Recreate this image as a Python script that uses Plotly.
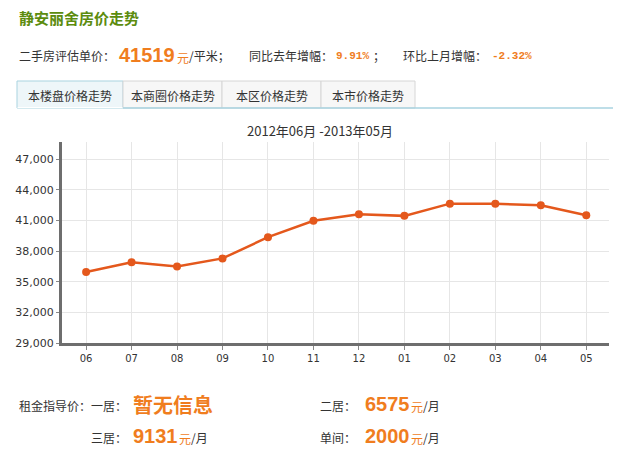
import plotly.graph_objects as go

months = ["06", "07", "08", "09", "10", "11", "12", "01", "02", "03", "04", "05"]
prices = [35950, 36920, 36500, 37290, 39370, 40980, 41620, 41460, 42660, 42650, 42505, 41519]
y_ticks = [29000, 32000, 35000, 38000, 41000, 44000, 47000]
y_tick_labels = ["29,000", "32,000", "35,000", "38,000", "41,000", "44,000", "47,000"]
tabs = ["本楼盘价格走势", "本商圈价格走势", "本区价格走势", "本市价格走势"]

W, H = 632, 458
L, R, T, B = 62, 609, 142, 343

def px(x):
    return (x - L) / (R - L)

def py(y):
    return (B - y) / (B - T)

ORANGE = "#f07d1e"
TXT = "#333333"
CJK = "Noto Sans CJK SC"

fig = go.Figure()
fig.add_trace(go.Scatter(
    x=list(range(len(months))), y=prices, mode="lines+markers",
    line=dict(color="#e4581c", width=2.5),
    marker=dict(color="#e4581c", size=8),
    hoverinfo="skip", showlegend=False,
))

annotations = []
def txt(x, y, s, size=12, color=TXT, family=CJK, anchor="left"):
    annotations.append(dict(
        x=px(x), y=py(y), xref="paper", yref="paper", text=s, showarrow=False,
        xanchor=anchor, yanchor="middle",
        font=dict(size=size, color=color, family=family),
    ))

# header
txt(17, 18, "<b>静安丽舍房价走势</b>", size=15, color="#5c8c0e")
txt(17, 56, "二手房评估单价：", size=12)
txt(117, 55, "<b>41519</b>", size=20, color=ORANGE, family="Liberation Sans")
txt(175, 57, "元", size=12, color=ORANGE)
txt(187, 56, "/平米；", size=12)
txt(247, 56, "同比去年增幅：", size=12)
txt(334, 56, "<b>9.91%</b>", size=11, color=ORANGE, family="Liberation Mono")
txt(371, 56, "；", size=12)
txt(401, 56, "环比上月增幅：", size=12)
txt(490, 56, "<b>-2.32%</b>", size=11, color=ORANGE, family="Liberation Mono")

# chart title
txt(320, 131, "2012年06月 -2013年05月", size=13, anchor="center")

# tabs
shapes = []
tab_x = [17, 123, 222, 321, 415]
for i, name in enumerate(tabs):
    x0, x1 = tab_x[i], tab_x[i + 1]
    active = i == 0
    shapes.append(dict(
        type="rect", xref="paper", yref="paper",
        x0=px(x0), x1=px(x1), y0=py(108), y1=py(81),
        fillcolor="#eef6f9" if active else "#f7f7f7",
        line=dict(color="#a9d3e0" if active else "#d6d6d6", width=1),
        layer="below",
    ))
    txt((x0 + x1) / 2, 95, name, size=12, anchor="center")
shapes.append(dict(
    type="line", xref="paper", yref="paper",
    x0=px(123), x1=px(613), y0=py(108), y1=py(108),
    line=dict(color="#a9d3e0", width=1.5),
))
shapes.append(dict(
    type="line", xref="paper", yref="paper",
    x0=px(17.5), x1=px(122.5), y0=py(107.5), y1=py(107.5),
    line=dict(color="#ffffff", width=1),
))

# rent info
txt(17, 405, "租金指导价：一居：", size=12)
txt(131, 404, "<b>暂无信息</b>", size=20, color=ORANGE)
txt(318, 405, "二居：", size=12)
txt(363, 404, "<b>6575</b>", size=20, color=ORANGE, family="Liberation Sans")
txt(409, 406, "元", size=12, color=ORANGE)
txt(421, 405, "/月", size=12)
txt(89, 437, "三居：", size=12)
txt(131, 436, "<b>9131</b>", size=20, color=ORANGE, family="Liberation Sans")
txt(177, 438, "元", size=12, color=ORANGE)
txt(189, 437, "/月", size=12)
txt(318, 437, "单间：", size=12)
txt(363, 436, "<b>2000</b>", size=20, color=ORANGE, family="Liberation Sans")
txt(409, 438, "元", size=12, color=ORANGE)
txt(421, 437, "/月", size=12)

fig.update_layout(
    width=W, height=H, autosize=False,
    margin=dict(l=L, r=W - R, t=T, b=H - B, pad=0),
    paper_bgcolor="white", plot_bgcolor="white",
    annotations=annotations, shapes=shapes,
    xaxis=dict(
        range=[-0.53, 11.5], tickmode="array",
        tickvals=list(range(len(months))), ticktext=months,
        showgrid=True, gridcolor="#e6e6e6", gridwidth=1,
        showline=True, linecolor="#6e6e6e", linewidth=3,
        ticks="outside", ticklen=4, tickcolor="#888888",
        tickfont=dict(family="DejaVu Sans", size=10, color=TXT),
        zeroline=False, fixedrange=True,
    ),
    yaxis=dict(
        range=[29000, 48700], tickmode="array",
        tickvals=y_ticks, ticktext=y_tick_labels,
        showgrid=True, gridcolor="#e6e6e6", gridwidth=1,
        showline=True, linecolor="#6e6e6e", linewidth=3,
        ticks="outside", ticklen=3, tickcolor="#888888",
        tickfont=dict(family="DejaVu Sans", size=11, color=TXT),
        zeroline=False, fixedrange=True,
    ),
)

fig.write_html("out.html", config={"displayModeBar": False})
